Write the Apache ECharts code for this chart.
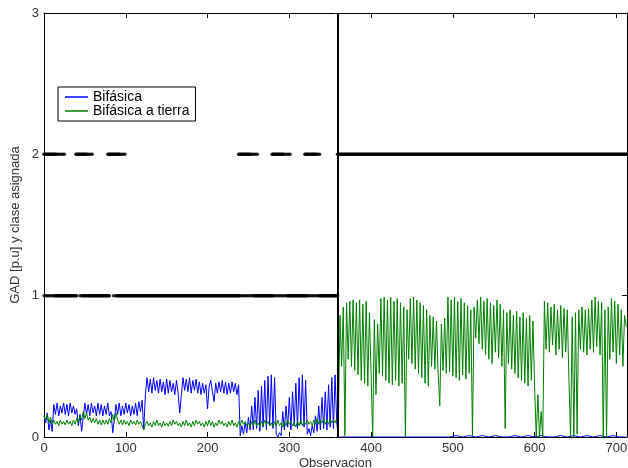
<!DOCTYPE html>
<html>
<head>
<meta charset="utf-8">
<script src="https://cdn.jsdelivr.net/npm/echarts@6/dist/echarts.min.js"></script>
<style>
html,body{margin:0;padding:0;background:#fff;}
#chart{width:628px;height:468px;}
</style>
</head>
<body>
<div id="chart"></div>
<script>
// ---- DATA ----
const xTickLabels = [0, 100, 200, 300, 400, 500, 600, 700];
const yTickLabels = [0, 1, 2, 3];
const seriesNames = ['Bifásica', 'Bifásica a tierra'];

// Bifásica (blue), observations 0..358, one value every 2 observations
const bifasica = [
  0.15,0.10,0.17,0.05,0.12,0.04,
  0.23,0.16,0.24,0.15,0.22,0.17,0.24,0.16,0.23,0.15,0.24,0.17,0.22,0.16,
  0.20,0.08,0.16,0.04,0.14,
  0.24,0.16,0.23,0.15,0.24,0.17,0.22,0.15,0.24,0.16,0.23,0.15,0.22,0.16,0.24,0.15,
  0.18,0.03,0.12,
  0.23,0.16,0.24,0.15,0.22,0.16,0.24,0.17,0.23,0.15,0.22,0.16,0.24,0.15,0.25,0.18,
  0.26,0.05,0.30,
  0.42,0.32,0.41,0.31,0.42,0.33,0.40,0.31,0.41,0.32,0.39,0.30,0.41,0.31,0.40,0.32,0.38,0.30,0.40,0.31,
  0.17,0.30,0.42,0.33,0.41,0.32,0.42,0.31,0.40,0.33,0.41,0.31,0.39,0.30,0.38,0.31,0.37,
  0.20,0.36,0.40,0.32,0.25,0.38,0.31,0.39,0.32,0.40,0.31,0.39,0.30,0.38,0.31,0.39,0.32,0.38,0.30,0.37,
  0.01,0.08,0.02,0.10,0.03,0.14,0.05,
  0.22,0.05,0.28,0.06,0.33,0.04,0.36,0.07,0.40,0.05,0.43,0.08,0.44,0.06,0.42,
  0.02,0.00,0.03,0.01,
  0.18,0.05,0.22,0.07,0.28,0.05,0.32,0.08,0.38,0.06,0.42,0.09,0.44,0.07,0.40,
  0.02,0.06,0.01,0.08,0.03,
  0.15,0.04,0.22,0.05,0.28,0.06,0.32,0.05,0.37,0.07,0.42,0.06,0.44,0.10
];
// Bifásica (blue) after the boundary, observations 360..712, one value every 8 observations
const bifasicaTail = [
  0,0,0,0,0,0,0,0,0,0,0,0,0,0,0,0,0,0,0.01,0,0.01,0,0.01,0,0.01,0,0,0.01,0,0.01,
  0,0.01,0,0,0.01,0,0.01,0,0.01,0,0.01,0,0.01,0,0
];
// Bifásica a tierra (green), observations 0..358, one value every 2 observations
const bifasicaTierraA = [
  0.15,0.12,0.16,0.10,0.14,0.09,
  0.12,0.09,0.11,0.08,0.12,0.09,0.11,0.085,0.12,0.09,0.11,0.08,0.12,0.09,0.13,0.10,0.15,0.12,
  0.18,0.13,0.17,0.12,0.14,0.10,0.13,
  0.10,0.13,0.09,0.12,0.085,0.12,0.09,0.12,0.09,0.13,0.10,
  0.16,0.11,0.17,0.12,
  0.09,0.12,0.085,0.12,0.09,0.11,0.08,0.12,0.09,0.11,0.085,0.12,0.09,0.11,
  0.08,0.05,0.09,
  0.11,0.08,0.10,0.07,0.11,0.08,0.12,0.08,0.10,0.07,
  0.11,0.08,0.10,0.075,0.11,0.08,0.12,0.09,0.11,0.08,
  0.10,0.07,0.11,0.08,0.12,0.08,0.10,0.07,0.11,0.08,
  0.12,0.09,0.11,0.08,0.10,0.07,0.11,0.08,0.12,0.08,
  0.11,0.07,0.10,0.08,0.12,0.09,0.11,0.08,0.10,0.07,
  0.11,0.08,0.12,0.08,0.10,0.07,0.11,0.08,0.12,0.09,
  0.11,0.08,0.10,0.07,0.11,0.08,0.12,0.08,0.10,0.075,
  0.11,0.08,0.12,0.09,0.11,0.08,0.10,0.07,0.11,0.08,
  0.12,0.08,0.10,0.07,0.11,0.08,0.12,0.09,0.11,0.08,
  0.10,0.07,0.11,0.08,0.12,0.08,0.11,0.09,0.12,0.09,
  0.11,0.08,0.12,0.09,0.13,0.09,0.12,0.10,0.13,0.09,
  0.12,0.09,0.13,0.10,0.12,0.10,0.13
];
// Bifásica a tierra (green), observations 360..712, one value every 2 observations
const bifasicaTierraB = [
  0.10,0.86,0.50,0.92,0.01,0.95,0.55,0.96,0.50,0.97,
  0.47,0.95,0.44,0.97,0.40,0.94,0.38,0.96,0.36,0.88,
  0.45,0.00,0.83,0.30,0.80,0.45,0.98,0.43,0.99,0.40,
  0.97,0.38,0.99,0.37,0.96,0.40,0.98,0.36,0.95,0.38,
  0.92,0.00,0.90,0.55,0.98,0.52,0.99,0.48,0.97,0.45,
  0.95,0.42,0.93,0.38,0.90,0.36,0.86,0.50,0.85,0.48,
  0.82,0.46,0.22,0.80,0.47,0.84,0.45,0.99,0.46,0.97,
  0.43,0.99,0.42,0.96,0.40,0.98,0.44,0.95,0.41,0.93,
  0.45,0.90,0.01,0.92,0.70,0.97,0.66,0.99,0.62,0.96,
  0.58,0.98,0.55,0.95,0.52,0.93,0.60,0.97,0.56,0.94,
  0.50,0.90,0.06,0.88,0.52,0.90,0.48,0.86,0.45,0.89,
  0.42,0.85,0.40,0.88,0.38,0.84,0.36,0.86,0.40,0.82,
  0.36,0.00,0.30,0.00,0.18,0.00,0.96,0.62,0.95,0.60,
  0.92,0.65,0.94,0.58,0.90,0.62,0.93,0.56,0.91,0.60,
  0.90,0.40,0.00,0.85,0.00,0.88,0.02,0.90,0.62,0.92,
  0.60,0.90,0.58,0.91,0.62,0.97,0.60,0.99,0.64,0.96,
  0.58,0.95,0.00,0.90,0.00,0.92,0.55,0.98,0.60,0.96,
  0.52,0.94,0.58,0.90,0.50,0.86,0.78
];
// Assigned class: runs of observations [first, last, step] per class value
const clase2Runs = [[0,14,1],[15,26,2],[39,52,1],[53,60,2],[78,92,1],[93,100,2],[238,252,1],[253,261,2],[279,292,1],[293,302,2],[319,332,1],[333,337,2],[359,713,1]];
const clase1Runs = [[0,12,2],[13,40,1],[44,44,1],[46,80,1],[85,85,1],[88,239,1],[240,256,2],[257,280,1],[281,296,2],[297,321,1],[322,335,2],[336,359,1]];
const boundaryObs = 359;
const xMax = 713;

// ---- BUILD ----
const blueData = bifasica.map((v, i) => [i * 2, v])
  .concat(bifasicaTail.map((v, i) => [360 + i * 8, v]));
const greenData = bifasicaTierraA.map((v, i) => [i * 2, v])
  .concat(bifasicaTierraB.map((v, i) => [360 + i * 2, v]));
function runsToPoints(runs, cls) {
  const pts = [];
  runs.forEach(([a, b, s]) => { for (let x = a; x <= b; x += s) pts.push([x, cls]); });
  return pts;
}
const classData = runsToPoints(clase1Runs, 1).concat(runsToPoints(clase2Runs, 2));

const FONT = "'Liberation Sans', Arial, sans-serif";
const chart = echarts.init(document.getElementById('chart'), null, {renderer: 'canvas'});
const baseX = {
  type: 'value', min: 0, max: xMax, interval: 100,
  axisLine: {show: true, onZero: false, lineStyle: {color: '#000', width: 1}},
  axisTick: {show: true, inside: true, length: 5, lineStyle: {color: '#000'}},
  splitLine: {show: false}
};
const baseY = {
  type: 'value', min: 0, max: 3, interval: 1,
  axisLine: {show: true, onZero: false, lineStyle: {color: '#000', width: 1}},
  axisTick: {show: true, inside: true, length: 5, lineStyle: {color: '#000'}},
  splitLine: {show: false}
};
chart.setOption({
  animation: false,
  backgroundColor: '#fff',
  grid: {left: 44, right: 1, top: 13, bottom: 31, containLabel: false, outerBoundsMode: 'none'},
  legend: {
    data: seriesNames.map(n => ({name: n, icon: 'rect'})),
    orient: 'vertical', left: 58, top: 87,
    itemWidth: 23, itemHeight: 1.5, itemGap: 0,
    padding: [3, 6, 3, 7],
    borderColor: '#000', borderWidth: 1, backgroundColor: '#fff',
    textStyle: {fontFamily: FONT, fontSize: 14, color: '#000', lineHeight: 14}
  },
  xAxis: [
    Object.assign({}, baseX, {
      position: 'bottom',
      axisLabel: {show: true, color: '#333', fontFamily: FONT, fontSize: 13, margin: 5, showMaxLabel: false,
        formatter: v => (xTickLabels.indexOf(v) >= 0 ? String(v) : '')},
      name: 'Observacion', nameLocation: 'middle', nameGap: 20, nameMoveOverlap: false,
      nameTextStyle: {fontFamily: FONT, fontSize: 13, color: '#333', verticalAlign: 'top'}
    }),
    Object.assign({}, baseX, {position: 'top', axisLabel: {show: false}})
  ],
  yAxis: [
    Object.assign({}, baseY, {
      position: 'left',
      axisLabel: {show: true, color: '#333', fontFamily: FONT, fontSize: 13, margin: 5,
        formatter: v => (yTickLabels.indexOf(v) >= 0 ? String(v) : '')},
      name: 'GAD [p.u] y clase asignada', nameLocation: 'middle', nameGap: 22, nameMoveOverlap: false,
      nameTextStyle: {fontFamily: FONT, fontSize: 13, color: '#333'}
    }),
    Object.assign({}, baseY, {position: 'right', axisLabel: {show: false}})
  ],
  series: [
    {
      name: seriesNames[0], type: 'line', data: blueData, showSymbol: false,
      lineStyle: {color: '#0000ff', width: 1}, itemStyle: {color: '#0000ff'}, z: 2
    },
    {
      name: seriesNames[1], type: 'line', data: greenData, showSymbol: false,
      lineStyle: {color: '#008000', width: 1}, itemStyle: {color: '#008000'}, z: 3
    },
    {
      name: 'clase', type: 'scatter', data: classData, symbolSize: 3.5,
      itemStyle: {color: '#000'}, z: 4,
      markLine: {
        silent: true, symbol: 'none', label: {show: false},
        lineStyle: {color: '#000', width: 2, type: 'solid'},
        data: [{xAxis: boundaryObs}]
      }
    }
  ]
});
</script>
</body>
</html>
